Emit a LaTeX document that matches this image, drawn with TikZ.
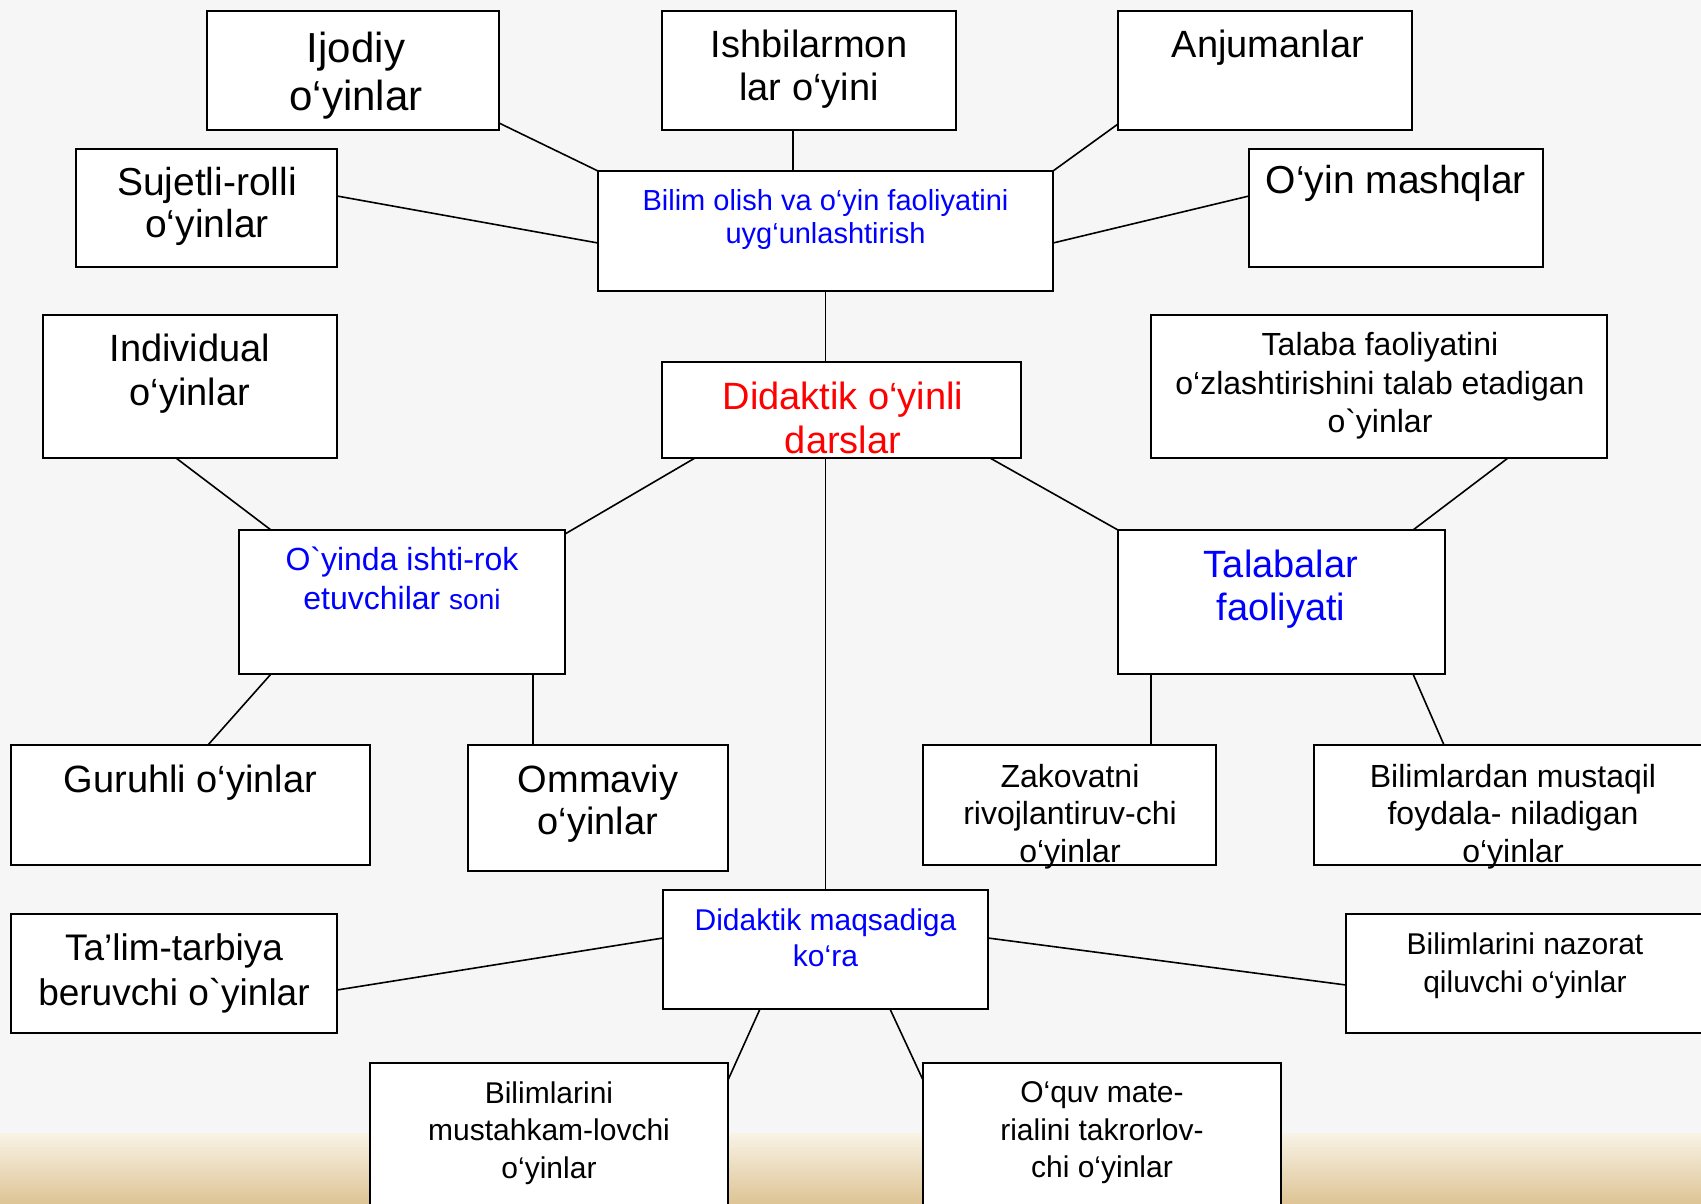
\documentclass[tikz,border=0pt]{standalone}
\usepackage{fontspec}
\newfontfamily\arial{Liberation Sans}
\usetikzlibrary{calc}
\definecolor{bgcol}{RGB}{246,246,246}
\definecolor{creamcol}{RGB}{248,243,230}
\definecolor{tancol}{RGB}{222,196,150}
\definecolor{bluetxt}{RGB}{0,0,255}
\definecolor{redtxt}{RGB}{255,0,0}
\tikzset{
  box/.style={draw=black, line width=2pt, fill=white, rectangle, inner sep=0pt, outer sep=0pt, anchor=north west},
  lbl/.style={anchor=north, align=center, inner sep=0pt},
  conn/.style={draw=black, line width=1.6pt},
  fs/.style 2 args={font=\arial\fontsize{#1}{#2}\selectfont}
}
\begin{document}
\begin{tikzpicture}[x=1pt,y=-1pt]
\useasboundingbox (0,0) rectangle (1701,1203);
\clip (0,0) rectangle (1701,1203);
\fill[bgcol] (0,0) rectangle (1701,1203);
\shade[top color=creamcol, bottom color=tancol] (0,1133) rectangle (1701,1203);

% boxes
\node[box, minimum width=292pt, minimum height=119pt] (ijodiy) at (207,11) {};
\node[box, minimum width=294pt, minimum height=119pt] (ishbil) at (662,11) {};
\node[box, minimum width=294pt, minimum height=119pt] (anjum) at (1118,11) {};
\node[box, minimum width=261pt, minimum height=118pt] (sujet) at (76,149) {};
\node[box, minimum width=455pt, minimum height=120pt] (bilim) at (598,171) {};
\node[box, minimum width=294pt, minimum height=118pt] (mashq) at (1249,149) {};
\node[box, minimum width=294pt, minimum height=143pt] (individ) at (43,315) {};
\node[box, minimum width=359pt, minimum height=96pt] (didak) at (662,362) {};
\node[box, minimum width=456pt, minimum height=143pt] (talaba) at (1151,315) {};
\node[box, minimum width=326pt, minimum height=144pt] (oyinda) at (239,530) {};
\node[box, minimum width=327pt, minimum height=144pt] (talabalar) at (1118,530) {};
\node[box, minimum width=359pt, minimum height=120pt] (guruh) at (11,745) {};
\node[box, minimum width=260pt, minimum height=126pt] (ommav) at (468,745) {};
\node[box, minimum width=293pt, minimum height=120pt] (zakov) at (923,745) {};
\node[box, minimum width=398pt, minimum height=120pt] (bilimlardan) at (1314,745) {};
\node[box, minimum width=325pt, minimum height=119pt] (maqsad) at (663,890) {};
\node[box, minimum width=326pt, minimum height=119pt] (talim) at (11,914) {};
\node[box, minimum width=360pt, minimum height=119pt] (nazorat) at (1346,914) {};
\node[box, minimum width=358pt, minimum height=170pt] (mustah) at (370,1063) {};
\node[box, minimum width=358pt, minimum height=170pt] (oquv) at (923,1063) {};

% connectors
\draw[conn] ([yshift=7pt]ijodiy.south east) -- (bilim.north west);
\draw[conn] ([xshift=131pt]ishbil.south west) -- ([xshift=131pt]ishbil.south west |- bilim.north);
\draw[conn] ([yshift=6pt]anjum.south west) -- (bilim.north east);
\draw[conn] ([yshift=-47pt]sujet.north east) -- ([yshift=-72pt]bilim.north west);
\draw[conn] ([yshift=-47pt]mashq.north west) -- ([yshift=-72pt]bilim.north east);
\draw[conn] (bilim.south) -- (bilim.south |- didak.north);
\draw[conn] (maqsad.north |- didak.south) -- (maqsad.north);
\draw[conn] ([xshift=133pt]individ.south west) -- ([xshift=32pt]oyinda.north west);
\draw[conn] ([xshift=33pt]didak.south west) -- ([yshift=-4pt]oyinda.north east);
\draw[conn] ([xshift=32pt]oyinda.south west) -- ([xshift=197pt]guruh.north west);
\draw[conn] ([xshift=294pt]oyinda.south west) -- ([xshift=294pt]oyinda.south west |- ommav.north);
\draw[conn] ([xshift=-31pt]didak.south east) -- (talabalar.north west);
\draw[conn] ([xshift=357pt]talaba.south west) -- ([xshift=295pt]talabalar.north west);
\draw[conn] ([xshift=33pt]talabalar.south west) -- ([xshift=33pt]talabalar.south west |- zakov.north);
\draw[conn] ([xshift=295pt]talabalar.south west) -- ([xshift=130pt]bilimlardan.north west);
\draw[conn] ([yshift=-48pt]maqsad.north west) -- ([yshift=-76pt]talim.north east);
\draw[conn] ([yshift=-48pt]maqsad.north east) -- ([yshift=-71pt]nazorat.north west);
\draw[conn] ([xshift=97pt]maqsad.south west) -- ([yshift=-17pt]mustah.north east);
\draw[conn] ([xshift=227pt]maqsad.south west) -- ([yshift=-17pt]oquv.north west);

% texts
\node[lbl, fs={42}{48}] (t-ijodiy) at (356,32) {Ijodiy\\o‘yinlar};
\node[lbl, fs={38}{43}] (t-ishbil) at (809,30) {Ishbilarmon\\lar o‘yini};
\node[lbl, fs={38}{43}] (t-anjum) at (1268,30) {Anjumanlar};
\node[lbl, fs={39}{42}] (t-sujet) at (207,167) {Sujetli-rolli\\o‘yinlar};
\node[lbl, fs={29}{33}, text=bluetxt] (t-bilim) at (825.5,189) {Bilim olish va o‘yin faoliyatini\\uyg‘unlashtirish};
\node[lbl, fs={39}{42}] (t-mashq) at (1396,165) {O‘yin mashqlar};
\node[lbl, fs={38}{44}] (t-individ) at (190,334) {Individual\\o‘yinlar};
\node[lbl, fs={38}{44}, text=redtxt] (t-didak) at (843,382) {Didaktik o‘yinli\\darslar};
\node[lbl, fs={32}{38.5}] (t-talaba) at (1380,332.5) {Talaba faoliyatini\\o‘zlashtirishini talab etadigan\\o`yinlar};
\node[lbl, fs={32}{39}, text=bluetxt] (t-oyinda) at (402,547) {O`yinda ishti-rok\\etuvchilar {\fontsize{28}{39}\selectfont soni}};
\node[lbl, fs={38}{43}, text=bluetxt] (t-talabalar) at (1281,550) {Talabalar\\faoliyati};
\node[lbl, fs={38}{43}] (t-guruh) at (190.5,765) {Guruhli o‘yinlar};
\node[lbl, fs={38}{42}] (t-ommav) at (598,765) {Ommaviy\\o‘yinlar};
\node[lbl, fs={32}{37.5}] (t-zakov) at (1070,764) {Zakovatni\\rivojlantiruv-chi\\o‘yinlar};
\node[lbl, fs={32}{37.5}] (t-bilimlardan) at (1513,764) {Bilimlardan mustaqil\\foydala- niladigan\\o‘yinlar};
\node[lbl, fs={30}{36}, text=bluetxt] (t-maqsad) at (825.5,908.5) {Didaktik maqsadiga\\ko‘ra};
\node[lbl, fs={37}{45}] (t-talim) at (174,933) {Ta’lim-tarbiya\\beruvchi o`yinlar};
\node[lbl, fs={30}{38}] (t-nazorat) at (1525,932.5) {Bilimlarini nazorat\\qiluvchi o‘yinlar};
\node[lbl, fs={30}{37.5}] (t-mustah) at (549,1081.5) {Bilimlarini\\mustahkam-lovchi\\o‘yinlar};
\node[lbl, fs={30}{37.5}] (t-oquv) at (1102,1081.5) {O‘quv mate-\\rialini takrorlov-\\chi o‘yinlar};
\end{tikzpicture}
\end{document}
